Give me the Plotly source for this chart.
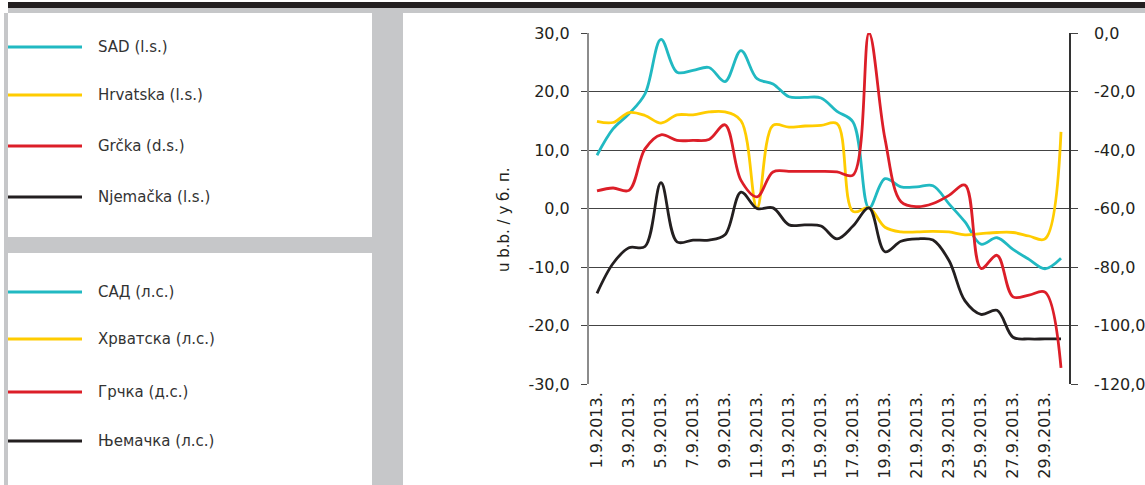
import plotly.graph_objects as go

# ---------------- data ----------------
dates = [f"{d}.9.2013." for d in range(1, 31)]
tick_dates = [f"{d}.9.2013." for d in range(1, 31, 2)]

sad = [9.1, 13.6, 16.2, 19.6, 28.9, 23.3, 23.6, 24.1, 21.7, 27.0,
       22.2, 21.3, 19.1, 19.0, 18.9, 16.6, 14.8, 0.1, 5.1, 3.7,
       3.7, 3.9, 0.8, -2.3, -6.1, -5.0, -7.0, -8.7, -10.3, -8.5]
hrvatska = [14.9, 14.7, 16.4, 15.9, 14.6, 16.0, 16.0, 16.5, 16.5, 15.0,
            0.1, 14.2, 13.9, 14.1, 14.2, 14.5, -0.5, 0.1, -3.2, -4.0,
            -4.0, -3.9, -4.0, -4.5, -4.3, -4.1, -4.1, -4.7, -5.2, 13.1]
grcka = [-54.0, -53.0, -53.8, -39.6, -34.8, -36.7, -36.7, -36.4, -31.4, -50.4,
         -56.0, -47.5, -47.3, -47.3, -47.3, -47.5, -48.6, 0.0, -36.2, -57.7,
         -59.4, -58.3, -55.5, -52.0, -80.5, -76.0, -90.2, -89.6, -88.6, -114.5]
njemacka = [-14.5, -9.4, -6.7, -6.5, 4.4, -5.7, -5.4, -5.4, -4.5, 2.8,
            0.0, 0.1, -2.8, -2.8, -3.0, -5.2, -3.0, 0.1, -7.4, -5.6,
            -5.2, -5.4, -8.9, -15.8, -18.1, -17.4, -22.0, -22.3, -22.3, -22.3]

left_ticks = [30, 20, 10, 0, -10, -20, -30]
left_ticktext = ["30,0", "20,0", "10,0", "0,0", "-10,0", "-20,0", "-30,0"]
right_ticks = [0, -20, -40, -60, -80, -100, -120]
right_ticktext = ["0,0", "-20,0", "-40,0", "-60,0", "-80,0", "-100,0", "-120,0"]

legend_lat = ["SAD (l.s.)", "Hrvatska (l.s.)", "Grčka (d.s.)", "Njemačka (l.s.)"]
legend_cyr = ["САД (л.с.)", "Хрватска (л.с.)", "Грчка (д.с.)", "Њемачка (л.с.)"]
y_title = "u b.b. / у б. п."

# ---------------- style ----------------
C_CYAN = "#21b9c2"
C_YEL = "#ffcc00"
C_RED = "#dc1e28"
C_BLK = "#231f20"
C_GRAY = "#c6c7c9"
colors = [C_CYAN, C_YEL, C_RED, C_BLK]
FONT = "DejaVu Sans"
TXT = "#231f20"

W, H = 1145, 485
PL, PR, PT, PB = 589, 1069, 33, 384


def fx(X):
    return (X - PL) / (PR - PL)


def fy(Y):
    return (PB - Y) / (PB - PT)


fig = go.Figure()
series = [(sad, "y"), (hrvatska, "y"), (grcka, "y2"), (njemacka, "y")]
for (vals, ax), name, col in zip(series, legend_lat, colors):
    fig.add_trace(go.Scatter(
        x=dates, y=vals, yaxis=ax, mode="lines", name=name,
        line=dict(color=col, width=2.8, shape="spline", smoothing=1.0),
        showlegend=False, hoverinfo="skip"))

shapes = []


def rect(x0, y0, x1, y1, color, layer="below"):
    shapes.append(dict(type="rect", xref="paper", yref="paper",
                       x0=fx(x0), x1=fx(x1), y0=fy(y1), y1=fy(y0),
                       fillcolor=color, line=dict(width=0), layer=layer))


# decorative panels
rect(4, 13, 403, 485, C_GRAY)
rect(8, 13, 372, 237, "white")
rect(8, 253, 372, 485, "white")
rect(8, 2, 1145, 8, C_BLK)
rect(8, 8, 1145, 13, C_GRAY)

annotations = []
leg_y1 = [47, 95, 146, 197]
leg_y2 = [292, 339, 392, 441]
for ys, labels in ((leg_y1, legend_lat), (leg_y2, legend_cyr)):
    for yy, lab, col in zip(ys, labels, colors):
        shapes.append(dict(type="line", xref="paper", yref="paper",
                           x0=fx(8), x1=fx(82), y0=fy(yy), y1=fy(yy),
                           line=dict(color=col, width=3)))
        annotations.append(dict(text=lab, xref="paper", yref="paper",
                                x=fx(96), y=fy(yy), xanchor="left",
                                yanchor="middle", showarrow=False,
                                font=dict(family=FONT, size=15, color="#333333")))

annotations.append(dict(text=y_title, xref="paper", yref="paper",
                        x=fx(504), y=fy(220), textangle=-90,
                        xanchor="center", yanchor="middle", showarrow=False,
                        font=dict(family=FONT, size=15, color=TXT)))

fig.update_layout(
    width=W, height=H,
    margin=dict(l=PL, r=W - PR, t=PT, b=H - PB, pad=0, autoexpand=False),
    paper_bgcolor="white", plot_bgcolor="white",
    shapes=shapes, annotations=annotations,
    font=dict(family=FONT, color=TXT),
    xaxis=dict(type="category", categoryorder="array", categoryarray=dates,
               range=[-0.5, 29.5], tickmode="array", tickvals=tick_dates,
               ticktext=tick_dates, tickangle=-90, ticks="",
               showgrid=False, showline=False, zeroline=False,
               automargin=False,
               tickfont=dict(family=FONT, size=16, color=TXT),
               ticklabelstandoff=4),
    yaxis=dict(range=[-30, 30], tickmode="array", tickvals=left_ticks,
               ticktext=left_ticktext, ticks="outside", ticklen=6,
               tickcolor="#444444", showgrid=True, gridcolor="#444444",
               gridwidth=1, zeroline=False, showline=True,
               linecolor="#8c8c8c", linewidth=2, automargin=False,
               tickfont=dict(family=FONT, size=16, color=TXT),
               ticklabelstandoff=8),
    yaxis2=dict(range=[-120, 0], overlaying="y", side="right",
                tickmode="array", tickvals=right_ticks,
                ticktext=right_ticktext, ticks="outside", ticklen=7,
                tickcolor="#444444", showgrid=False, zeroline=False,
                showline=True, linecolor="#333333", linewidth=1.5,
                automargin=False,
                tickfont=dict(family=FONT, size=16, color=TXT),
                ticklabelstandoff=13),
)

fig.write_html("out.html")
